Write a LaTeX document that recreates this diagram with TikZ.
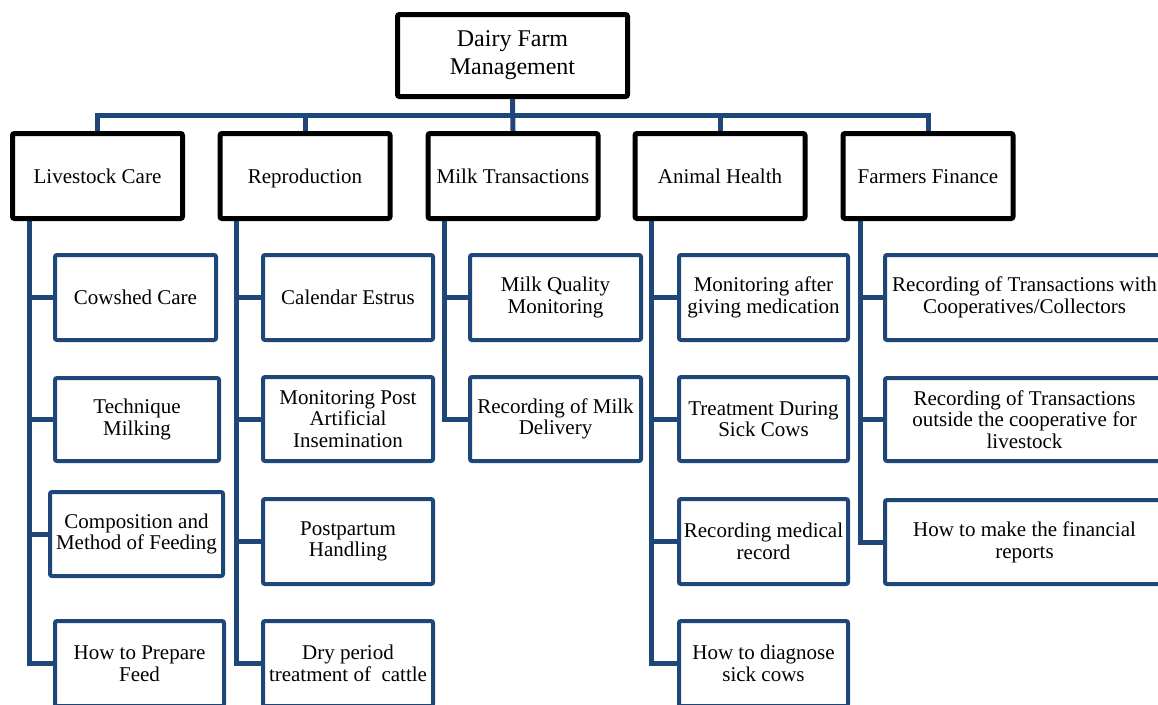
\documentclass[tikz,border=0pt]{standalone}
\usepackage{fontspec}
\setmainfont{Liberation Serif}
\usetikzlibrary{backgrounds}
\definecolor{dfblue}{RGB}{31,70,120}
\tikzset{
  rootbox/.style={draw=black, fill=white, line width=5pt, rounded corners=2pt, align=center,
    minimum width=230pt, minimum height=82pt, font=\fontsize{24}{28}\selectfont},
  areabox/.style={draw=black, fill=white, line width=5pt, rounded corners=2pt, align=center,
    minimum width=170pt, minimum height=85pt, text height=14pt, text depth=0pt,
    font=\fontsize{21}{22}\selectfont},
  taskbox/.style={draw=dfblue, fill=white, line width=4pt, rounded corners=2pt, align=center,
    inner sep=1pt, minimum height=85pt, font=\fontsize{21}{21.7}\selectfont},
  link/.style={draw=dfblue, line width=5pt}
}
\begin{document}
\begin{tikzpicture}[x=1pt,y=-1pt]
\useasboundingbox (0,0) rectangle (1158,704);
\clip (0,0) rectangle (1158,704);

\node[rootbox] (root) at (512.5,55.5) {Dairy Farm\\Management};

\node[areabox] (ls) at (97.5,176) {Livestock Care};
\node[areabox] (rp) at (305,176) {Reproduction};
\node[areabox] (mt) at (513,176) {Milk Transactions};
\node[areabox] (ah) at (720,176) {Animal Health};
\node[areabox] (ff) at (928,176) {Farmers Finance};

% livestock care
\node[taskbox, minimum width=161pt] (ls1) at (135.5,297.5) {Cowshed Care};
\node[taskbox, minimum width=164pt, minimum height=83pt] (ls2) at (137,419.5) {Technique\\Milking};
\node[taskbox, minimum width=173pt, minimum height=84pt] (ls3) at (136.5,534) {Composition and\\Method of Feeding};
\node[taskbox, minimum width=169pt] (ls4) at (139.5,663.5) {How to Prepare\\Feed};

% reproduction
\node[taskbox, minimum width=170pt] (rp1) at (348,297.5) {Calendar Estrus};
\node[taskbox, minimum width=170pt, minimum height=84pt] (rp2) at (348,419) {Monitoring Post\\Artificial\\Insemination};
\node[taskbox, minimum width=170pt] (rp3) at (348,541.5) {Postpartum\\Handling};
\node[taskbox, minimum width=170pt] (rp4) at (348,663.5) {Dry period\\treatment of\ \ cattle};

% milk transactions
\node[taskbox, minimum width=171pt] (mt1) at (555.5,297.5) {Milk Quality\\Monitoring};
\node[taskbox, minimum width=171pt, minimum height=84pt] (mt2) at (555.5,419) {Recording of Milk\\Delivery};

% animal health
\node[taskbox, minimum width=169pt] (ah1) at (763.5,297.5) {Monitoring after\\giving medication};
\node[taskbox, minimum width=169pt, minimum height=84pt] (ah2) at (763.5,419) {Treatment During\\Sick Cows};
\node[taskbox, minimum width=169pt] (ah3) at (763.5,541.5) {Recording medical\\record};
\node[taskbox, minimum width=169pt] (ah4) at (763.5,663.5) {How to diagnose\\sick cows};

% farmers finance
\node[taskbox, minimum width=279pt] (ff1) at (1024.5,297.5) {Recording of Transactions with\\Cooperatives/Collectors};
\node[taskbox, minimum width=279pt, minimum height=83pt] (ff2) at (1024.5,419.5) {Recording of Transactions\\outside the cooperative for\\livestock};
\node[taskbox, minimum width=279pt, minimum height=84pt] (ff3) at (1024.5,542) {How to make the financial\\reports};

\begin{scope}[on background layer]
\coordinate (bus) at (512.5,115);
\draw[link] (root.south) -- (mt.north);
\draw[link] (ls.north) -- (ls.north |- bus) -- (ff.north |- bus) -- (ff.north);
\draw[link] (rp.north) -- (rp.north |- bus);
\draw[link] (ah.north) -- (ah.north |- bus);

\coordinate (lsT) at ([xshift=19pt]ls.south west);
\coordinate (rpT) at ([xshift=19pt]rp.south west);
\coordinate (mtT) at ([xshift=19pt]mt.south west);
\coordinate (ahT) at ([xshift=19pt]ah.south west);
\coordinate (ffT) at ([xshift=20pt]ff.south west);

\draw[link] (lsT) |- (ls4.west);
\draw[link] (lsT |- ls1.west) -- (ls1.west);
\draw[link] (lsT |- ls2.west) -- (ls2.west);
\draw[link] (lsT |- ls3.west) -- (ls3.west);

\draw[link] (rpT) |- (rp4.west);
\draw[link] (rpT |- rp1.west) -- (rp1.west);
\draw[link] (rpT |- rp2.west) -- (rp2.west);
\draw[link] (rpT |- rp3.west) -- (rp3.west);

\draw[link] (mtT) |- (mt2.west);
\draw[link] (mtT |- mt1.west) -- (mt1.west);

\draw[link] (ahT) |- (ah4.west);
\draw[link] (ahT |- ah1.west) -- (ah1.west);
\draw[link] (ahT |- ah2.west) -- (ah2.west);
\draw[link] (ahT |- ah3.west) -- (ah3.west);

\draw[link] (ffT) |- (ff3.west);
\draw[link] (ffT |- ff1.west) -- (ff1.west);
\draw[link] (ffT |- ff2.west) -- (ff2.west);
\end{scope}
\end{tikzpicture}
\end{document}
